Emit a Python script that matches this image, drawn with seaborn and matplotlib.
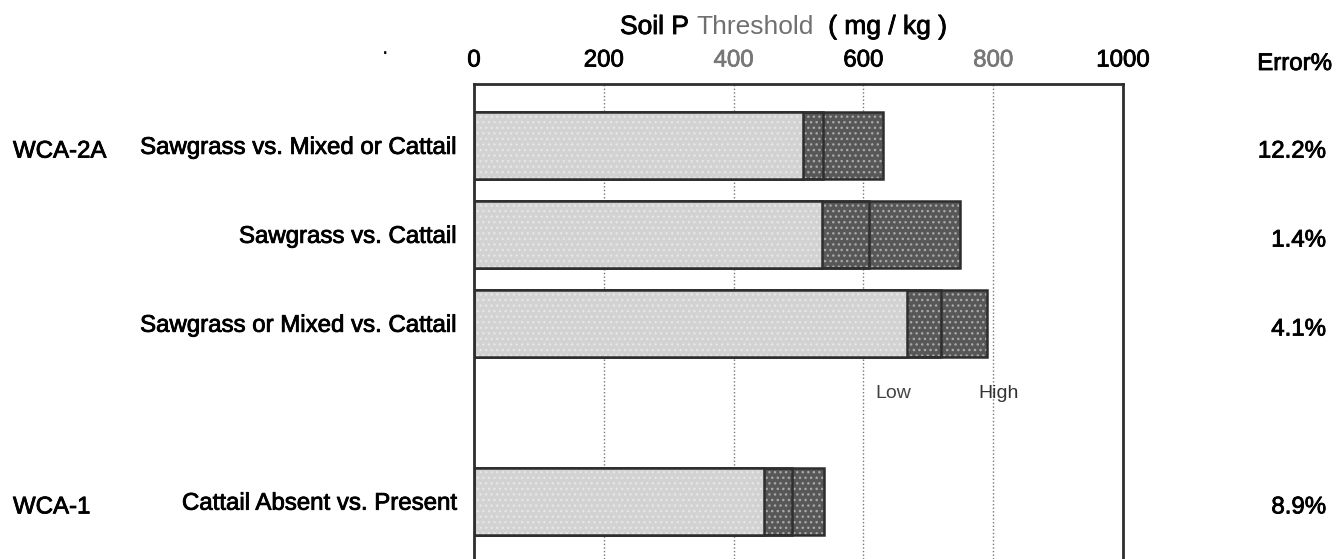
import matplotlib
matplotlib.use("Agg")
import matplotlib.pyplot as plt
import matplotlib.transforms as mtransforms
import matplotlib.patheffects as pe
import seaborn as sns
import pandas as pd

# ---- data ----
comparisons = ["Sawgrass vs. Mixed or Cattail", "Sawgrass vs. Cattail",
               "Sawgrass or Mixed vs. Cattail", "Cattail Absent vs. Present"]
areas = ["WCA-2A", "", "", "WCA-1"]
light_end = [507, 536, 667, 447]      # end of light segment (mg/kg)
mid_split = [538, 609, 720, 490]      # divider inside dark segment
high_end = [630, 749, 790, 539]       # end of bar
error_pct = ["12.2%", "1.4%", "4.1%", "8.9%"]
x_ticks = [0, 200, 400, 600, 800, 1000]
gray_ticks = [400, 800]
range_labels = ["Low", "High"]
range_label_x = [618, 777]

spacer = " "
order = comparisons[:3] + [spacer] + comparisons[3:]

sns.set_theme(style="white")
plt.rcParams["font.family"] = ["Liberation Sans", "DejaVu Sans"]
plt.rcParams["text.color"] = "black"
plt.rcParams["hatch.linewidth"] = 1.0

heavy = [pe.withStroke(linewidth=0.6, foreground="black")]

W, H = 1339, 559
fig = plt.figure(figsize=(W / 100, H / 100), dpi=100)
ax = fig.add_axes([474 / W, 0.0, (1123 - 474) / W, 1 - 84 / H])

df = pd.DataFrame({"comparison": comparisons, "low": light_end,
                   "mid": mid_split, "high": high_end})

edge = "#2e2e2e"
dark = "#575757"
light = "#d2d2d2"
common = dict(data=df, y="comparison", order=order, orient="h",
              width=0.75, errorbar=None, saturation=1, ax=ax)

# dark segment fill (textured)
sns.barplot(x="high", color=dark, edgecolor="#a8a8a8", linewidth=0,
            hatch="...", **common)
sns.barplot(x="high", color=edge, fill=False, linewidth=1.8, **common)
sns.barplot(x="mid", color=edge, fill=False, linewidth=1.8, **common)
# light segment
sns.barplot(x="low", color=light, edgecolor="#e6e6e6", linewidth=0,
            hatch="...", **common)
sns.barplot(x="low", color=edge, fill=False, linewidth=1.8, **common)

ax.set_xlim(0, 1000)
ax.set_ylim(4.65, -0.69)
ax.set_xlabel("")
ax.set_ylabel("")
ax.xaxis.tick_top()
ax.set_xticks(x_ticks)
ax.set_xticklabels([str(t) for t in x_ticks])
ax.tick_params(axis="x", length=0, pad=9, labelsize=17.3, colors="black")
ax.tick_params(axis="y", length=0, pad=13, labelsize=17.3, colors="black")
for lab, t in zip(ax.get_xticklabels(), x_ticks):
    if t in gray_ticks:
        lab.set_color("#777777")
        lab.set_path_effects([pe.withStroke(linewidth=0.5, foreground="#777777")])
    else:
        lab.set_path_effects(heavy)
for lab in ax.get_yticklabels():
    lab.set_path_effects(heavy)

ax.set_axisbelow(True)
ax.xaxis.grid(True, linestyle=(0, (1, 1.6)), color="#777777", linewidth=1.0)
ax.yaxis.grid(False)
for s in ["left", "top", "right"]:
    ax.spines[s].set_color(edge)
    ax.spines[s].set_linewidth(2.0)
    ax.spines[s].set_visible(True)
ax.spines["bottom"].set_visible(False)

blend = mtransforms.blended_transform_factory(fig.transFigure, ax.transData)
for comp, area, err in zip(comparisons, areas, error_pct):
    pos = order.index(comp)
    if area:
        ax.text(13 / W, pos + 0.07, area, transform=blend, ha="left",
                va="center", fontsize=17.3, path_effects=heavy)
    ax.text(1326 / W, pos + 0.07, err, transform=blend, ha="right",
            va="center", fontsize=17.3, path_effects=heavy)

fig.text(1332 / W, 1 - 64 / H, "Error%", ha="right", va="center",
         fontsize=17.3, path_effects=heavy)

gap_pos = order.index(spacer) - 0.21
for lab, xv, col in zip(range_labels, range_label_x, ["#444444", "#333333"]):
    ax.text(xv, gap_pos, lab, ha="left", va="center", fontsize=14, color=col)

# title with mixed colours
t1 = fig.text(620 / W, 1 - 27 / H, "Soil P", ha="left", va="center",
              fontsize=19, color="black", path_effects=heavy)
t2 = ax.annotate("Threshold", xy=(1, 0), xycoords=t1, xytext=(5.3, 0),
                 textcoords="offset points", ha="left", va="bottom",
                 fontsize=19, color="#707070", annotation_clip=False)
t3 = ax.annotate("( mg / kg )", xy=(1, 0), xycoords=t2, xytext=(10.6, 0),
                 textcoords="offset points", ha="left", va="bottom",
                 fontsize=19, color="black", annotation_clip=False,
                 path_effects=heavy)

fig.text(382 / W, 1 - 54 / H, ".", ha="left", va="baseline", fontsize=17)

fig.savefig("out.png", dpi=100, facecolor="white")
